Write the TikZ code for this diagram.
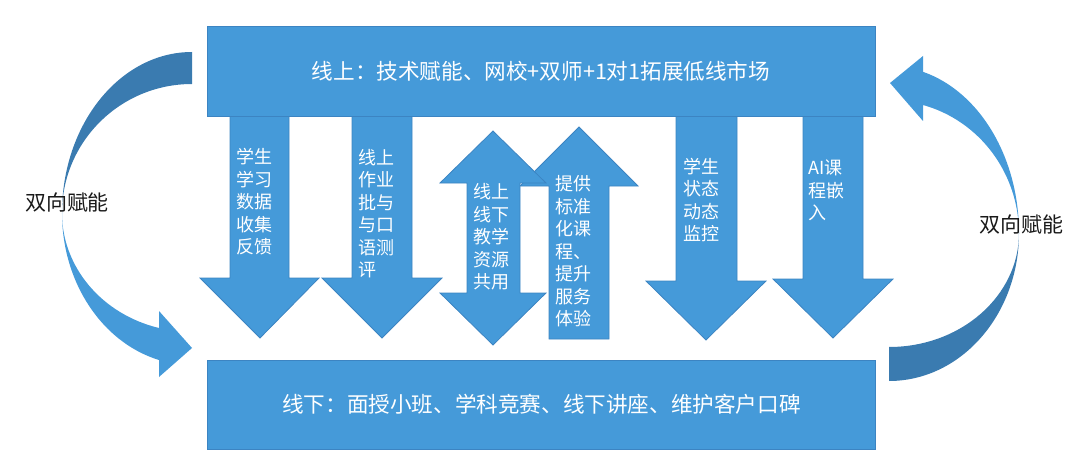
\documentclass[tikz,border=0pt]{standalone}
\usepackage{fontspec}
\setmainfont{Noto Sans CJK SC}
\usepackage{xcolor}
\usepackage{tikz}
\usetikzlibrary{positioning}
\definecolor{ppblue}{HTML}{459AD9}
\definecolor{ppedge}{HTML}{3C84C2}
\definecolor{ppdark}{HTML}{3A7BB0}

\begin{document}
\begin{tikzpicture}[
    x=1pt, y=1pt,
    blk/.style={fill=ppblue, draw=ppedge, line width=0.8pt, line join=miter},
    back/.style={fill=ppdark, draw=none},
    bar/.style={rectangle, fill=ppblue, draw=ppedge, line width=0.8pt, minimum width=668pt, minimum height=90pt, inner sep=0pt, text=white, font=\fontsize{21.6}{25}\selectfont},
    txt/.style={anchor=west, text=white, align=left, inner sep=0pt, font=\fontsize{18}{22.5}\selectfont},
    side/.style={text=black!90, inner sep=0pt, font=\fontsize{21}{25}\selectfont}
]
\useasboundingbox (0,0) rectangle (1080,467);

% Left curved arrow (online -> offline)
\fill[back] (192,415) arc[start angle=90, end angle=180, x radius=130, y radius=161]
    arc[start angle=180, end angle=90, x radius=130, y radius=129] -- cycle;
\fill[ppblue] (62,254) arc[start angle=180, end angle=255.3, x radius=130, y radius=152]
    -- (159,90) -- (192,119) -- (159,156) -- (159,139)
    arc[start angle=255.3, end angle=180, x radius=130, y radius=119] -- cycle;

% Right curved arrow (offline -> online)
\fill[back] (889,86) arc[start angle=-90, end angle=0, x radius=130, y radius=148]
    arc[start angle=0, end angle=-90, x radius=130, y radius=114] -- cycle;
\fill[ppblue] (1019,234) arc[start angle=0, end angle=74.8, x radius=130, y radius=167]
    -- (923,411) -- (890,384) -- (923,346) -- (923,362)
    arc[start angle=74.8, end angle=0, x radius=130, y radius=133] -- cycle;

% Down arrows
\draw[blk] (230,352) -- (230,189) -- (200,189) -- (260,129) -- (319,189) -- (289,189) -- (289,352);
\draw[blk] (352,352) -- (352,189) -- (322,189) -- (382,129) -- (442,189) -- (412,189) -- (412,352);
\draw[blk] (676,352) -- (676,186) -- (646,186) -- (706,127) -- (766,186) -- (737,186) -- (737,352);
\draw[blk] (803,352) -- (803,188) -- (773,188) -- (833,129) -- (893,188) -- (863,188) -- (863,352);

% Up arrow, then the double arrow over it
\draw[blk] (549,128) -- (549,281) -- (520,281) -- (579,340) -- (638,281) -- (609,281) -- (609,128) -- cycle;
\draw[blk] (493,336) -- (546,284) -- (520,284) -- (520,174) -- (546,174) -- (493,122)
    -- (440,174) -- (467,174) -- (467,284) -- (440,284) -- cycle;

% Online / offline bars
\node[bar] (online) at (541,396) {线上：技术赋能、网校+双师+1对1拓展低线市场};
\node[bar, minimum height=89pt] (offline) at (541.5,62.5) {线下：面授小班、学科竞赛、线下讲座、维护客户口碑};

% Texts in the arrows
\node[txt] (collect) at (236,265) {学生\\学习\\数据\\收集\\反馈};
\node[txt] (homework) at (358,253.5) {线上\\作业\\批与\\与口\\语测\\评};
\node[txt] (share) at (473,230) {线上\\线下\\教学\\资源\\共用};
\node[txt] (standard) at (555,215.5) {提供\\标准\\化课\\程、\\提升\\服务\\体验};
\node[txt] (monitor) at (683,267) {学生\\状态\\动态\\监控};
\node[txt] (aiclass) at (808,276.5) {AI课\\程嵌\\入};

% Side labels
\node[side] (leftlbl) at (67,264) {双向赋能};
\node[side] (rightlbl) at (1021,242) {双向赋能};

\end{tikzpicture}
\end{document}
